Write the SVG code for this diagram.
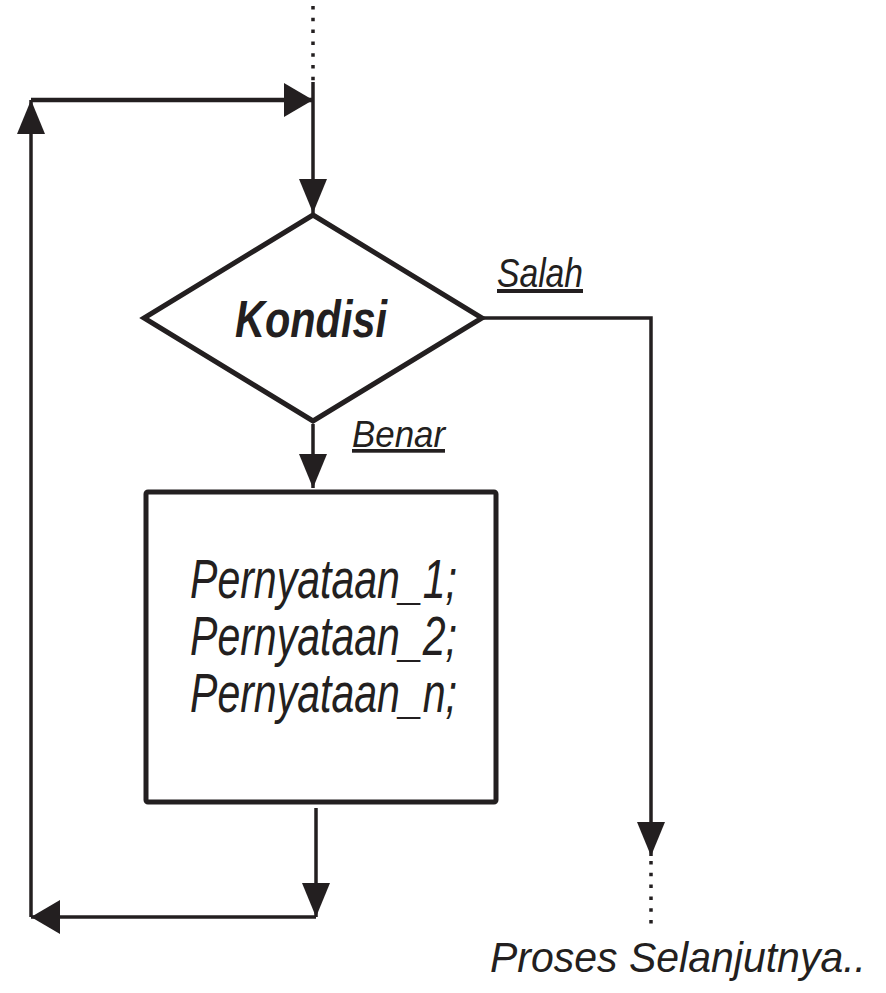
<svg xmlns="http://www.w3.org/2000/svg" width="886" height="993" viewBox="0 0 886 993">
  <style>
    .ln { fill: none; stroke: #231f20; stroke-width: 3.5; stroke-linecap: butt; }
    .thick { stroke-width: 4.5; }
    .dot { fill: none; stroke: #231f20; stroke-width: 3.5; stroke-dasharray: 3.5 8.3; }
    .shape { fill: #ffffff; stroke: #231f20; stroke-width: 5; stroke-linejoin: miter; }
    .txt { font-family: "Liberation Sans", Arial, sans-serif; font-style: italic; fill: #231f20; }
    .bold { font-weight: bold; }
    .ul { text-decoration: underline; }
  </style>
  <defs>
    <marker id="arrow-v" markerUnits="userSpaceOnUse" markerWidth="34" markerHeight="28" viewBox="0 0 34 28" refX="34" refY="14" orient="auto">
      <path d="M0,0 L34,14 L0,28 Z" fill="#231f20"/>
    </marker>
    <marker id="arrow-h" markerUnits="userSpaceOnUse" markerWidth="29" markerHeight="34" viewBox="0 0 29 34" refX="29" refY="17" orient="auto">
      <path d="M0,0 L29,17 L0,34 Z" fill="#231f20"/>
    </marker>
  </defs>
  <rect width="886" height="993" fill="#ffffff"/>

  <g id="connectors">
    <line class="dot" x1="313" y1="6" x2="313" y2="81"/>
    <path class="ln" d="M313,82 V213" marker-end="url(#arrow-v)"/>
    <path class="ln" d="M313,424 V488" marker-end="url(#arrow-v)"/>
    <path class="ln" d="M482,318 H651 V856" marker-end="url(#arrow-v)"/>
    <line class="dot" x1="651" y1="861" x2="651" y2="924"/>
    <path class="ln" d="M316,808 V917" marker-end="url(#arrow-v)"/>
    <path class="ln" d="M316,917 H31" marker-end="url(#arrow-h)"/>
    <path class="ln" d="M31,917 V100" marker-end="url(#arrow-v)"/>
    <path class="ln thick" d="M31,100 H313" marker-end="url(#arrow-h)"/>
  </g>

  <g id="node-decision">
    <polygon class="shape" points="313,215 482,318 313,421 144,318"/>
    <text class="txt bold" x="235" y="337" font-size="52" textLength="152" lengthAdjust="spacingAndGlyphs">Kondisi</text>
  </g>

  <g id="label-salah">
    <text class="txt ul" x="497" y="287" font-size="40" textLength="86" lengthAdjust="spacingAndGlyphs">Salah</text>
  </g>

  <g id="label-benar">
    <text class="txt ul" x="352" y="447" font-size="37" textLength="93" lengthAdjust="spacingAndGlyphs">Benar</text>
  </g>

  <g id="node-process">
    <rect class="shape" x="146" y="492" width="350" height="310" rx="2"/>
    <text class="txt" x="190" y="598" font-size="56" textLength="267" lengthAdjust="spacingAndGlyphs">Pernyataan_1;</text>
    <text class="txt" x="190" y="655" font-size="56" textLength="267" lengthAdjust="spacingAndGlyphs">Pernyataan_2;</text>
    <text class="txt" x="190" y="712" font-size="56" textLength="267" lengthAdjust="spacingAndGlyphs">Pernyataan_n;</text>
  </g>

  <g id="node-next">
    <text class="txt" x="490" y="972" font-size="42" textLength="376" lengthAdjust="spacingAndGlyphs">Proses Selanjutnya..</text>
  </g>
</svg>
